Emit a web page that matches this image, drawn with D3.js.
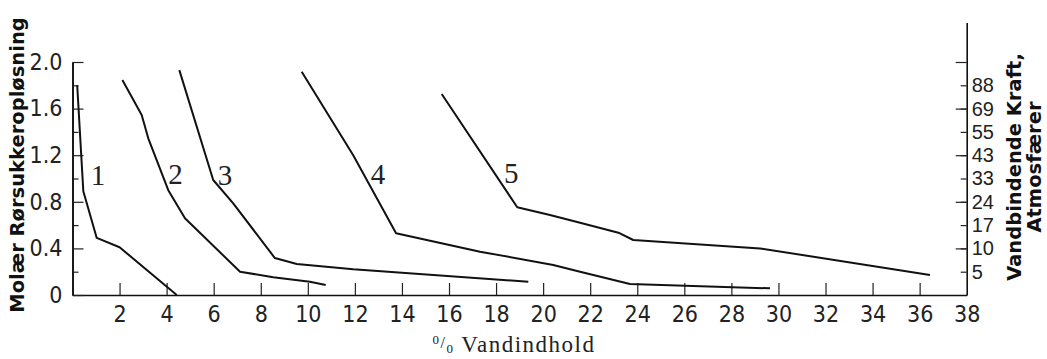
<!DOCTYPE html>
<html>
<head>
<meta charset="utf-8">
<script src="https://cdn.jsdelivr.net/npm/d3@7"></script>
<style>
    body { margin: 0; background: #fff; }
</style>
</head>
<body>
<div id="chart"></div>
<script>

// % Vandindhold (x), Molær Rørsukkeropløsning (y)
const curve1 = [[0.20, 1.80], [0.46, 0.89], [1.03, 0.49], [2.0, 0.41], [4.43, 0]];
const curve2 = [[2.12, 1.845], [2.94, 1.545], [3.22, 1.345], [4.07, 0.90], [4.78, 0.658],
    [7.12, 0.20], [8.53, 0.152], [10.09, 0.114], [10.76, 0.086]];
const curve3 = [[4.54, 1.93], [5.98, 0.987], [6.83, 0.787], [8.6, 0.317], [9.53, 0.266],
    [11.93, 0.22], [19.37, 0.114]];
const curve4 = [[9.74, 1.917], [11.93, 1.20], [13.75, 0.53], [17.32, 0.372], [20.43, 0.258],
    [21.57, 0.20], [23.69, 0.094], [29.64, 0.057]];
const curve5 = [[15.69, 1.725], [18.90, 0.753], [20.29, 0.687], [21.57, 0.62], [23.2, 0.535],
    [23.83, 0.472], [29.22, 0.40], [36.44, 0.172]];

const curves = [curve1, curve2, curve3, curve4, curve5];
const curveNames = ["1", "2", "3", "4", "5"];
// where each number sits, in data units
const curveLabelX = [1.08, 4.38, 6.48, 12.98, 18.64];
const curveLabelY = [0.944, 0.953, 0.944, 0.953, 0.961];

const xTicks = [2, 4, 6, 8, 10, 12, 14, 16, 18, 20, 22, 24, 26, 28, 30, 32, 34, 36, 38];
const molMajor = [0, 0.4, 0.8, 1.2, 1.6, 2.0];
const molMinor = [0.2, 0.6, 1.0, 1.4, 1.8];
const atmValues = [0.2, 0.4, 0.6, 0.8, 1.0, 1.2, 1.4, 1.6, 1.8];
const atmLabels = ["5", "10", "17", "24", "33", "43", "55", "69", "88"];

const width = 1047, height = 359;
const narrowFont = "'Liberation Sans Narrow', 'DejaVu Sans Condensed', sans-serif";

const svg = d3.select("#chart").append("svg")
    .attr("width", width)
    .attr("height", height);

const x = d3.scaleLinear().domain([0, 38]).range([72.5, 966.7]);
const y = d3.scaleLinear().domain([0, 2]).range([295, 62]);
// right axis runs a little higher than 2.0
const yRight = y.copy().domain([0, 2.34]).range([y(0), y(2.34)]);

function styleAxis(g) {
    g.select(".domain").attr("stroke", "#111").attr("stroke-width", 1.6);
    g.selectAll(".tick line").attr("stroke", "#222").attr("stroke-width", 1.2);
    g.selectAll(".tick text").attr("fill", "#222");
}

// x axis
svg.append("g")
    .attr("transform", "translate(0," + y(0) + ")")
    .call(d3.axisBottom(x)
        .tickValues(xTicks)
        .tickSizeInner(-12)
        .tickSizeOuter(0)
        .tickPadding(11)
        .tickFormat(d3.format("d")))
    .call(styleAxis)
    .call(g => g.selectAll(".tick text")
        .style("font-family", narrowFont)
        .style("font-size", "23px"))
    .call(g => g.selectAll(".tick line").filter(d => d === 38).remove());

// left axis
svg.append("g")
    .attr("transform", "translate(" + x(0) + ",0)")
    .call(d3.axisLeft(y).tickValues(molMinor).tickSizeInner(-6).tickSizeOuter(0).tickFormat(""))
    .call(styleAxis);

svg.append("g")
    .attr("transform", "translate(" + x(0) + ",0)")
    .call(d3.axisLeft(y)
        .tickValues(molMajor)
        .tickSizeInner(-11)
        .tickSizeOuter(0)
        .tickPadding(10)
        .tickFormat(d => d === 0 ? "0" : d3.format(".1f")(d)))
    .call(styleAxis)
    .call(g => g.selectAll(".tick text")
        .style("font-family", narrowFont)
        .style("font-size", "23px"));

// right axis, vandbindende kraft
svg.append("g")
    .attr("transform", "translate(" + x(38) + ",0)")
    .call(d3.axisRight(yRight).tickValues([0.4, 0.8, 1.2, 1.6, 2.0]).tickSizeInner(-11).tickSizeOuter(0).tickFormat(""))
    .call(styleAxis);

svg.append("g")
    .attr("transform", "translate(" + x(38) + ",0)")
    .call(d3.axisRight(yRight)
        .tickValues(atmValues)
        .tickSizeInner(-6)
        .tickSizeOuter(0)
        .tickPadding(5)
        .tickFormat((d, i) => atmLabels[i]))
    .call(styleAxis)
    .call(g => g.select(".domain").remove())
    .call(g => g.selectAll(".tick text")
        .style("font-family", "'Liberation Sans', sans-serif")
        .style("font-size", "20px"));

// curves
const line = d3.line()
    .x(d => x(d[0]))
    .y(d => y(d[1]));

svg.selectAll("path.curve").data(curves).enter()
    .append("path")
    .attr("class", "curve")
    .attr("d", line)
    .attr("fill", "none")
    .attr("stroke", "#111")
    .attr("stroke-width", 2)
    .attr("stroke-linejoin", "round");

svg.selectAll("text.curve-label").data(curveNames).enter()
    .append("text")
    .attr("class", "curve-label")
    .attr("x", (d, i) => x(curveLabelX[i]))
    .attr("y", (d, i) => y(curveLabelY[i]))
    .attr("text-anchor", "middle")
    .attr("font-family", "'Liberation Serif', serif")
    .attr("font-size", 29)
    .attr("fill", "#222")
    .text(d => d);

// axis titles
const titleFont = "'DejaVu Sans', sans-serif";

function addTitle(tx, ty, label) {
    svg.append("text")
        .attr("transform", "translate(" + tx + "," + ty + ") rotate(-90)")
        .attr("text-anchor", "middle")
        .attr("font-family", titleFont)
        .attr("font-weight", "bold")
        .attr("font-size", 19.5)
        .attr("fill", "#111")
        .text(label);
}

addTitle(24, 165, "Molær Rørsukkeropløsning");
addTitle(1021, 167, "Vandbindende Kraft,");
addTitle(1041, 167, "Atmosfærer");

const xTitle = svg.append("text")
    .attr("x", 514)
    .attr("y", 352)
    .attr("text-anchor", "middle")
    .attr("font-family", "'Liberation Serif', serif")
    .attr("font-size", 23)
    .attr("letter-spacing", 1.5)
    .attr("fill", "#222");

xTitle.append("tspan").attr("font-size", 13).attr("dy", -8).text("0");
xTitle.append("tspan").attr("font-size", 16).attr("dy", 4).text("/");
xTitle.append("tspan").attr("font-size", 13).attr("dy", 5).text("0");
xTitle.append("tspan").attr("dy", -1).text(" Vandindhold");

</script>
</body>
</html>
